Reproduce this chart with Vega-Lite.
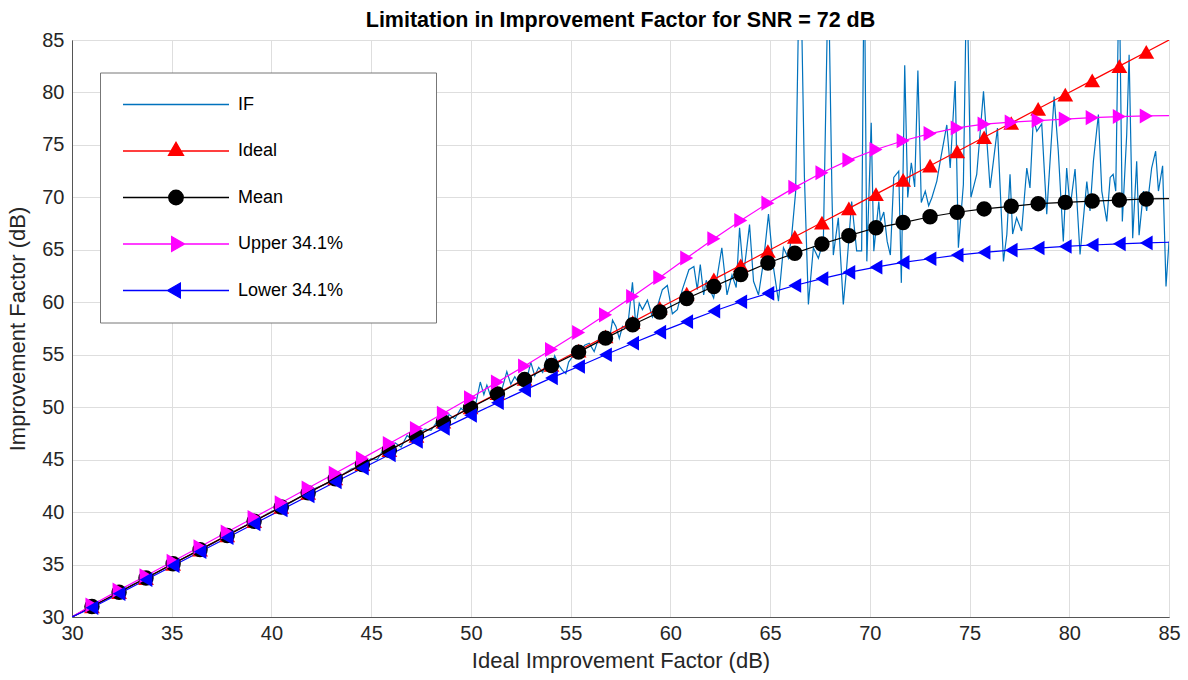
{
  "$schema": "https://vega.github.io/schema/vega-lite/v6.json",
  "width": 1097,
  "height": 577,
  "autosize": "none",
  "padding": {"left": 72, "top": 40, "right": 19, "bottom": 63},
  "background": "white",
  "title": {"text": "Limitation in Improvement Factor for SNR = 72 dB", "fontSize": 21.5, "font": "Liberation Sans", "fontWeight": "bold", "color": "#000000", "offset": -1, "anchor": "middle"},
  "config": {
    "font": "Liberation Sans",
    "view": {"stroke": "#555555", "strokeWidth": 1},
    "axis": {"grid": true, "gridColor": "#dedede", "gridWidth": 1, "domainColor": "#555555", "ticks": false, "labelFont": "Liberation Sans", "titleFont": "Liberation Sans", "labelColor": "#262626", "titleColor": "#262626", "labelFontSize": 20, "titleFontSize": 22, "titleFontWeight": "normal", "labelOverlap": false}
  },
  "data": {"values": [
    {"s":"IF","x":30,"y":30},{"s":"IF","x":31,"y":31.05},{"s":"IF","x":32,"y":31.95},{"s":"IF","x":33,"y":33.05},{"s":"IF","x":34,"y":33.95},{"s":"IF","x":35,"y":35.05},{"s":"IF","x":36,"y":36.0},{"s":"IF","x":37,"y":36.95},{"s":"IF","x":38,"y":38.05},{"s":"IF","x":39,"y":39.0},{"s":"IF","x":40,"y":40.05},{"s":"IF","x":41,"y":40.95},{"s":"IF","x":42,"y":42.1},{"s":"IF","x":43,"y":42.9},{"s":"IF","x":44,"y":44.1},{"s":"IF","x":44.5,"y":44.4},{"s":"IF","x":45,"y":45.1},{"s":"IF","x":45.3,"y":45.0},{"s":"IF","x":45.6,"y":45.9},{"s":"IF","x":45.9,"y":45.7},{"s":"IF","x":46.2,"y":46.6},{"s":"IF","x":46.5,"y":46.2},{"s":"IF","x":46.8,"y":47.3},{"s":"IF","x":47.1,"y":46.8},{"s":"IF","x":47.4,"y":47.5},{"s":"IF","x":47.7,"y":47.9},{"s":"IF","x":48,"y":47.8},{"s":"IF","x":48.3,"y":48.6},{"s":"IF","x":48.6,"y":48.3},{"s":"IF","x":48.9,"y":49.3},{"s":"IF","x":49.2,"y":48.9},{"s":"IF","x":49.5,"y":49.9},{"s":"IF","x":49.8,"y":49.4},{"s":"IF","x":50.0,"y":50.1},{"s":"IF","x":50.2,"y":49.9},{"s":"IF","x":50.47,"y":52.4},{"s":"IF","x":50.65,"y":51.2},{"s":"IF","x":50.8,"y":52.1},{"s":"IF","x":51.0,"y":51.0},{"s":"IF","x":51.2,"y":51.5},{"s":"IF","x":51.4,"y":51.1},{"s":"IF","x":51.6,"y":52.0},{"s":"IF","x":51.8,"y":53.4},{"s":"IF","x":52.0,"y":52.2},{"s":"IF","x":52.2,"y":52.9},{"s":"IF","x":52.4,"y":52.3},{"s":"IF","x":52.6,"y":53.2},{"s":"IF","x":52.8,"y":52.6},{"s":"IF","x":53.0,"y":54.3},{"s":"IF","x":53.2,"y":53.0},{"s":"IF","x":53.4,"y":53.8},{"s":"IF","x":53.6,"y":53.3},{"s":"IF","x":53.8,"y":54.6},{"s":"IF","x":54.0,"y":53.7},{"s":"IF","x":54.2,"y":54.9},{"s":"IF","x":54.4,"y":54.0},{"s":"IF","x":54.59,"y":53.5},{"s":"IF","x":54.76,"y":53.2},{"s":"IF","x":54.9,"y":54.3},{"s":"IF","x":55.09,"y":54.8},{"s":"IF","x":55.3,"y":55.7},{"s":"IF","x":55.51,"y":55.4},{"s":"IF","x":55.7,"y":55.9},{"s":"IF","x":55.93,"y":56.1},{"s":"IF","x":56.18,"y":55.3},{"s":"IF","x":56.43,"y":56.7},{"s":"IF","x":56.6,"y":56.2},{"s":"IF","x":56.77,"y":57.0},{"s":"IF","x":56.95,"y":56.5},{"s":"IF","x":57.1,"y":58.3},{"s":"IF","x":57.27,"y":57.7},{"s":"IF","x":57.44,"y":56.55},{"s":"IF","x":57.6,"y":57.7},{"s":"IF","x":57.85,"y":57.5},{"s":"IF","x":58.1,"y":61.9},{"s":"IF","x":58.27,"y":57.7},{"s":"IF","x":58.44,"y":59.9},{"s":"IF","x":58.6,"y":59.3},{"s":"IF","x":58.85,"y":60.2},{"s":"IF","x":59.1,"y":58.6},{"s":"IF","x":59.35,"y":59.6},{"s":"IF","x":59.6,"y":61.2},{"s":"IF","x":59.85,"y":61.6},{"s":"IF","x":60.1,"y":58.9},{"s":"IF","x":60.35,"y":59.3},{"s":"IF","x":60.6,"y":61.2},{"s":"IF","x":60.93,"y":63.1},{"s":"IF","x":61.18,"y":63.4},{"s":"IF","x":61.35,"y":61.2},{"s":"IF","x":61.5,"y":63.6},{"s":"IF","x":61.67,"y":60.7},{"s":"IF","x":61.8,"y":62.1},{"s":"IF","x":61.92,"y":61.4},{"s":"IF","x":62.05,"y":60.9},{"s":"IF","x":62.17,"y":60.4},{"s":"IF","x":62.42,"y":63.3},{"s":"IF","x":62.58,"y":65.2},{"s":"IF","x":62.84,"y":60.7},{"s":"IF","x":63.09,"y":62.6},{"s":"IF","x":63.3,"y":61.4},{"s":"IF","x":63.47,"y":67.1},{"s":"IF","x":63.67,"y":62.6},{"s":"IF","x":63.97,"y":67.4},{"s":"IF","x":64.17,"y":62.0},{"s":"IF","x":64.42,"y":60.7},{"s":"IF","x":64.67,"y":63.9},{"s":"IF","x":64.92,"y":68.4},{"s":"IF","x":65.17,"y":63.3},{"s":"IF","x":65.42,"y":60.1},{"s":"IF","x":65.67,"y":65.2},{"s":"IF","x":65.92,"y":64.2},{"s":"IF","x":66.09,"y":66.5},{"s":"IF","x":66.28,"y":70.5},{"s":"IF","x":66.5,"y":96},{"s":"IF","x":66.72,"y":72},{"s":"IF","x":66.92,"y":59.8},{"s":"IF","x":67.17,"y":65.2},{"s":"IF","x":67.42,"y":64.2},{"s":"IF","x":67.67,"y":65.8},{"s":"IF","x":67.92,"y":92},{"s":"IF","x":68.1,"y":70.5},{"s":"IF","x":68.17,"y":64.5},{"s":"IF","x":68.42,"y":68.05},{"s":"IF","x":68.67,"y":59.8},{"s":"IF","x":68.84,"y":63.3},{"s":"IF","x":69.09,"y":69.6},{"s":"IF","x":69.34,"y":64.9},{"s":"IF","x":69.59,"y":64.9},{"s":"IF","x":69.72,"y":94},{"s":"IF","x":69.85,"y":63.9},{"s":"IF","x":70.07,"y":77.1},{"s":"IF","x":70.2,"y":64.87},{"s":"IF","x":70.45,"y":69.6},{"s":"IF","x":70.53,"y":67.7},{"s":"IF","x":70.7,"y":68.6},{"s":"IF","x":70.87,"y":65.8},{"s":"IF","x":71.03,"y":64.5},{"s":"IF","x":71.2,"y":71.9},{"s":"IF","x":71.45,"y":72.5},{"s":"IF","x":71.58,"y":61.85},{"s":"IF","x":71.75,"y":82.6},{"s":"IF","x":71.9,"y":70.0},{"s":"IF","x":72.08,"y":73.3},{"s":"IF","x":72.25,"y":71.0},{"s":"IF","x":72.41,"y":82.1},{"s":"IF","x":72.58,"y":69.5},{"s":"IF","x":72.78,"y":70.6},{"s":"IF","x":72.95,"y":69.2},{"s":"IF","x":73.11,"y":69.97},{"s":"IF","x":73.36,"y":71.55},{"s":"IF","x":73.53,"y":73.45},{"s":"IF","x":73.86,"y":76.9},{"s":"IF","x":74.03,"y":72.8},{"s":"IF","x":74.28,"y":81.1},{"s":"IF","x":74.44,"y":65.2},{"s":"IF","x":74.69,"y":71.2},{"s":"IF","x":74.86,"y":92},{"s":"IF","x":75.07,"y":70.0},{"s":"IF","x":75.36,"y":72.2},{"s":"IF","x":75.7,"y":80.1},{"s":"IF","x":76.03,"y":70.9},{"s":"IF","x":76.2,"y":73.5},{"s":"IF","x":76.4,"y":76.6},{"s":"IF","x":76.7,"y":63.9},{"s":"IF","x":76.87,"y":66.46},{"s":"IF","x":77.03,"y":72.2},{"s":"IF","x":77.16,"y":66.5},{"s":"IF","x":77.36,"y":68.05},{"s":"IF","x":77.61,"y":66.8},{"s":"IF","x":77.87,"y":72.8},{"s":"IF","x":78.03,"y":70.9},{"s":"IF","x":78.2,"y":77.6},{"s":"IF","x":78.37,"y":76.3},{"s":"IF","x":78.62,"y":77.0},{"s":"IF","x":78.87,"y":68.4},{"s":"IF","x":79.12,"y":76.0},{"s":"IF","x":79.24,"y":79.6},{"s":"IF","x":79.45,"y":74.4},{"s":"IF","x":79.7,"y":65.8},{"s":"IF","x":79.87,"y":72.8},{"s":"IF","x":80.04,"y":69.0},{"s":"IF","x":80.29,"y":72.7},{"s":"IF","x":80.54,"y":64.55},{"s":"IF","x":80.88,"y":71.5},{"s":"IF","x":81.04,"y":68.7},{"s":"IF","x":81.21,"y":73.45},{"s":"IF","x":81.46,"y":77.9},{"s":"IF","x":81.63,"y":70.6},{"s":"IF","x":81.88,"y":67.7},{"s":"IF","x":82.05,"y":71.9},{"s":"IF","x":82.2,"y":72.2},{"s":"IF","x":82.33,"y":70.6},{"s":"IF","x":82.5,"y":92},{"s":"IF","x":82.66,"y":67.7},{"s":"IF","x":82.88,"y":76.0},{"s":"IF","x":83.0,"y":83.6},{"s":"IF","x":83.18,"y":66.1},{"s":"IF","x":83.38,"y":73.45},{"s":"IF","x":83.5,"y":66.4},{"s":"IF","x":83.72,"y":70.6},{"s":"IF","x":83.88,"y":68.7},{"s":"IF","x":84.13,"y":72.8},{"s":"IF","x":84.33,"y":74.4},{"s":"IF","x":84.47,"y":70.6},{"s":"IF","x":84.68,"y":73.0},{"s":"IF","x":84.85,"y":61.5},{"s":"IF","x":85.0,"y":65.8},

    {"s":"Ideal","x":30,"y":30,"m":0},{"s":"Ideal","x":31.00,"y":31.00,"m":1},{"s":"Ideal","x":32.36,"y":32.36,"m":1},{"s":"Ideal","x":33.71,"y":33.71,"m":1},{"s":"Ideal","x":35.07,"y":35.07,"m":1},{"s":"Ideal","x":36.42,"y":36.42,"m":1},{"s":"Ideal","x":37.78,"y":37.78,"m":1},{"s":"Ideal","x":39.13,"y":39.13,"m":1},{"s":"Ideal","x":40.49,"y":40.49,"m":1},{"s":"Ideal","x":41.84,"y":41.84,"m":1},{"s":"Ideal","x":43.20,"y":43.20,"m":1},{"s":"Ideal","x":44.56,"y":44.56,"m":1},{"s":"Ideal","x":45.91,"y":45.91,"m":1},{"s":"Ideal","x":47.27,"y":47.27,"m":1},{"s":"Ideal","x":48.62,"y":48.62,"m":1},{"s":"Ideal","x":49.98,"y":49.98,"m":1},{"s":"Ideal","x":51.33,"y":51.33,"m":1},{"s":"Ideal","x":52.69,"y":52.69,"m":1},{"s":"Ideal","x":54.04,"y":54.04,"m":1},{"s":"Ideal","x":55.40,"y":55.40,"m":1},{"s":"Ideal","x":56.75,"y":56.75,"m":1},{"s":"Ideal","x":58.11,"y":58.11,"m":1},{"s":"Ideal","x":59.47,"y":59.47,"m":1},{"s":"Ideal","x":60.82,"y":60.82,"m":1},{"s":"Ideal","x":62.18,"y":62.18,"m":1},{"s":"Ideal","x":63.53,"y":63.53,"m":1},{"s":"Ideal","x":64.89,"y":64.89,"m":1},{"s":"Ideal","x":66.24,"y":66.24,"m":1},{"s":"Ideal","x":67.60,"y":67.60,"m":1},{"s":"Ideal","x":68.95,"y":68.95,"m":1},{"s":"Ideal","x":70.31,"y":70.31,"m":1},{"s":"Ideal","x":71.67,"y":71.67,"m":1},{"s":"Ideal","x":73.02,"y":73.02,"m":1},{"s":"Ideal","x":74.38,"y":74.38,"m":1},{"s":"Ideal","x":75.73,"y":75.73,"m":1},{"s":"Ideal","x":77.09,"y":77.09,"m":1},{"s":"Ideal","x":78.44,"y":78.44,"m":1},{"s":"Ideal","x":79.80,"y":79.80,"m":1},{"s":"Ideal","x":81.15,"y":81.15,"m":1},{"s":"Ideal","x":82.51,"y":82.51,"m":1},{"s":"Ideal","x":83.86,"y":83.86,"m":1},{"s":"Ideal","x":85,"y":85,"m":0},

    {"s":"Mean","x":30,"y":30,"m":0},{"s":"Mean","x":31.00,"y":31.00,"m":1},{"s":"Mean","x":32.36,"y":32.36,"m":1},{"s":"Mean","x":33.71,"y":33.71,"m":1},{"s":"Mean","x":35.07,"y":35.07,"m":1},{"s":"Mean","x":36.42,"y":36.42,"m":1},{"s":"Mean","x":37.78,"y":37.77,"m":1},{"s":"Mean","x":39.13,"y":39.12,"m":1},{"s":"Mean","x":40.49,"y":40.48,"m":1},{"s":"Mean","x":41.84,"y":41.83,"m":1},{"s":"Mean","x":43.20,"y":43.18,"m":1},{"s":"Mean","x":44.56,"y":44.54,"m":1},{"s":"Mean","x":45.91,"y":45.89,"m":1},{"s":"Mean","x":47.27,"y":47.25,"m":1},{"s":"Mean","x":48.62,"y":48.59,"m":1},{"s":"Mean","x":49.98,"y":49.94,"m":1},{"s":"Mean","x":51.33,"y":51.25,"m":1},{"s":"Mean","x":52.69,"y":52.63,"m":1},{"s":"Mean","x":54.04,"y":53.97,"m":1},{"s":"Mean","x":55.40,"y":55.25,"m":1},{"s":"Mean","x":56.75,"y":56.58,"m":1},{"s":"Mean","x":58.11,"y":57.85,"m":1},{"s":"Mean","x":59.47,"y":59.08,"m":1},{"s":"Mean","x":60.82,"y":60.36,"m":1},{"s":"Mean","x":62.18,"y":61.50,"m":1},{"s":"Mean","x":63.53,"y":62.64,"m":1},{"s":"Mean","x":64.89,"y":63.74,"m":1},{"s":"Mean","x":66.24,"y":64.68,"m":1},{"s":"Mean","x":67.60,"y":65.55,"m":1},{"s":"Mean","x":68.95,"y":66.35,"m":1},{"s":"Mean","x":70.31,"y":67.10,"m":1},{"s":"Mean","x":71.67,"y":67.60,"m":1},{"s":"Mean","x":73.02,"y":68.15,"m":1},{"s":"Mean","x":74.38,"y":68.58,"m":1},{"s":"Mean","x":75.73,"y":68.90,"m":1},{"s":"Mean","x":77.09,"y":69.15,"m":1},{"s":"Mean","x":78.44,"y":69.40,"m":1},{"s":"Mean","x":79.80,"y":69.52,"m":1},{"s":"Mean","x":81.15,"y":69.65,"m":1},{"s":"Mean","x":82.51,"y":69.74,"m":1},{"s":"Mean","x":83.86,"y":69.85,"m":1},{"s":"Mean","x":85,"y":69.88,"m":0},

    {"s":"Upper 34.1%","x":30,"y":30,"m":0},{"s":"Upper 34.1%","x":31.00,"y":31.15,"m":1},{"s":"Upper 34.1%","x":32.36,"y":32.56,"m":1},{"s":"Upper 34.1%","x":33.71,"y":33.93,"m":1},{"s":"Upper 34.1%","x":35.07,"y":35.32,"m":1},{"s":"Upper 34.1%","x":36.42,"y":36.70,"m":1},{"s":"Upper 34.1%","x":37.78,"y":38.10,"m":1},{"s":"Upper 34.1%","x":39.13,"y":39.49,"m":1},{"s":"Upper 34.1%","x":40.49,"y":40.89,"m":1},{"s":"Upper 34.1%","x":41.84,"y":42.29,"m":1},{"s":"Upper 34.1%","x":43.20,"y":43.70,"m":1},{"s":"Upper 34.1%","x":44.56,"y":45.12,"m":1},{"s":"Upper 34.1%","x":45.91,"y":46.53,"m":1},{"s":"Upper 34.1%","x":47.27,"y":47.97,"m":1},{"s":"Upper 34.1%","x":48.62,"y":49.42,"m":1},{"s":"Upper 34.1%","x":49.98,"y":50.90,"m":1},{"s":"Upper 34.1%","x":51.33,"y":52.39,"m":1},{"s":"Upper 34.1%","x":52.69,"y":53.93,"m":1},{"s":"Upper 34.1%","x":54.04,"y":55.49,"m":1},{"s":"Upper 34.1%","x":55.40,"y":57.12,"m":1},{"s":"Upper 34.1%","x":56.75,"y":58.80,"m":1},{"s":"Upper 34.1%","x":58.11,"y":60.55,"m":1},{"s":"Upper 34.1%","x":59.47,"y":62.37,"m":1},{"s":"Upper 34.1%","x":60.82,"y":64.22,"m":1},{"s":"Upper 34.1%","x":62.18,"y":66.06,"m":1},{"s":"Upper 34.1%","x":63.53,"y":67.80,"m":1},{"s":"Upper 34.1%","x":64.89,"y":69.45,"m":1},{"s":"Upper 34.1%","x":66.24,"y":70.95,"m":1},{"s":"Upper 34.1%","x":67.60,"y":72.35,"m":1},{"s":"Upper 34.1%","x":68.95,"y":73.55,"m":1},{"s":"Upper 34.1%","x":70.31,"y":74.56,"m":1},{"s":"Upper 34.1%","x":71.67,"y":75.40,"m":1},{"s":"Upper 34.1%","x":73.02,"y":76.08,"m":1},{"s":"Upper 34.1%","x":74.38,"y":76.62,"m":1},{"s":"Upper 34.1%","x":75.73,"y":76.98,"m":1},{"s":"Upper 34.1%","x":77.09,"y":77.17,"m":1},{"s":"Upper 34.1%","x":78.44,"y":77.32,"m":1},{"s":"Upper 34.1%","x":79.80,"y":77.46,"m":1},{"s":"Upper 34.1%","x":81.15,"y":77.60,"m":1},{"s":"Upper 34.1%","x":82.51,"y":77.70,"m":1},{"s":"Upper 34.1%","x":83.86,"y":77.76,"m":1},{"s":"Upper 34.1%","x":85,"y":77.80,"m":0},

    {"s":"Lower 34.1%","x":30,"y":30,"m":0},{"s":"Lower 34.1%","x":31.00,"y":30.88,"m":1},{"s":"Lower 34.1%","x":32.36,"y":32.22,"m":1},{"s":"Lower 34.1%","x":33.71,"y":33.55,"m":1},{"s":"Lower 34.1%","x":35.07,"y":34.89,"m":1},{"s":"Lower 34.1%","x":36.42,"y":36.22,"m":1},{"s":"Lower 34.1%","x":37.78,"y":37.56,"m":1},{"s":"Lower 34.1%","x":39.13,"y":38.88,"m":1},{"s":"Lower 34.1%","x":40.49,"y":40.21,"m":1},{"s":"Lower 34.1%","x":41.84,"y":41.54,"m":1},{"s":"Lower 34.1%","x":43.20,"y":42.87,"m":1},{"s":"Lower 34.1%","x":44.56,"y":44.18,"m":1},{"s":"Lower 34.1%","x":45.91,"y":45.46,"m":1},{"s":"Lower 34.1%","x":47.27,"y":46.73,"m":1},{"s":"Lower 34.1%","x":48.62,"y":47.98,"m":1},{"s":"Lower 34.1%","x":49.98,"y":49.22,"m":1},{"s":"Lower 34.1%","x":51.33,"y":50.43,"m":1},{"s":"Lower 34.1%","x":52.69,"y":51.63,"m":1},{"s":"Lower 34.1%","x":54.04,"y":52.79,"m":1},{"s":"Lower 34.1%","x":55.40,"y":53.88,"m":1},{"s":"Lower 34.1%","x":56.75,"y":55.00,"m":1},{"s":"Lower 34.1%","x":58.11,"y":56.10,"m":1},{"s":"Lower 34.1%","x":59.47,"y":57.15,"m":1},{"s":"Lower 34.1%","x":60.82,"y":58.15,"m":1},{"s":"Lower 34.1%","x":62.18,"y":59.15,"m":1},{"s":"Lower 34.1%","x":63.53,"y":60.05,"m":1},{"s":"Lower 34.1%","x":64.89,"y":60.85,"m":1},{"s":"Lower 34.1%","x":66.24,"y":61.60,"m":1},{"s":"Lower 34.1%","x":67.60,"y":62.25,"m":1},{"s":"Lower 34.1%","x":68.95,"y":62.85,"m":1},{"s":"Lower 34.1%","x":70.31,"y":63.35,"m":1},{"s":"Lower 34.1%","x":71.67,"y":63.80,"m":1},{"s":"Lower 34.1%","x":73.02,"y":64.15,"m":1},{"s":"Lower 34.1%","x":74.38,"y":64.50,"m":1},{"s":"Lower 34.1%","x":75.73,"y":64.75,"m":1},{"s":"Lower 34.1%","x":77.09,"y":64.97,"m":1},{"s":"Lower 34.1%","x":78.44,"y":65.17,"m":1},{"s":"Lower 34.1%","x":79.80,"y":65.32,"m":1},{"s":"Lower 34.1%","x":81.15,"y":65.46,"m":1},{"s":"Lower 34.1%","x":82.51,"y":65.57,"m":1},{"s":"Lower 34.1%","x":83.86,"y":65.66,"m":1},{"s":"Lower 34.1%","x":85,"y":65.72,"m":0}
  ]},
  "encoding": {
    "x": {"field": "x", "type": "quantitative", "scale": {"domain": [30, 85], "nice": false, "zero": false},
          "axis": {"values": [30,35,40,45,50,55,60,65,70,75,80,85], "title": "Ideal Improvement Factor (dB)", "labelPadding": 6, "titlePadding": 7, "labelFlush": false}},
    "y": {"field": "y", "type": "quantitative", "scale": {"domain": [30, 85], "nice": false, "zero": false},
          "axis": {"values": [30,35,40,45,50,55,60,65,70,75,80,85], "title": "Improvement Factor (dB)", "labelPadding": 8, "titlePadding": 12, "labelFlush": false}}
  },
  "layer": [
    {
      "mark": {"type": "line", "clip": true, "strokeWidth": 1.2},
      "encoding": {
        "color": {"field": "s", "type": "nominal",
          "scale": {"domain": ["IF", "Ideal", "Mean", "Upper 34.1%", "Lower 34.1%"], "range": ["#0072bd", "#ff0000", "#000000", "#ff00ff", "#0000ff"]},
          "legend": {
            "orient": "none", "legendX": 28, "legendY": 32.5, "title": null,
            "symbolSize": 11236, "clipHeight": 20, "rowPadding": 26.5, "padding": 22,
            "labelOffset": 8, "labelFontSize": 18, "labelFont": "Liberation Sans", "labelColor": "#000000",
            "labelLimit": 400, "strokeColor": "#777777", "fillColor": "#ffffff", "symbolStrokeWidth": 1.3,
            "labelExpr": "datum.label + '\u00a0\u00a0\u00a0\u00a0\u00a0\u00a0\u00a0\u00a0\u00a0\u00a0\u00a0\u00a0\u00a0\u00a0\u200b'",
            "encode": {"symbols": {"update": {
              "shape": {"signal": "datum.value === 'IF' ? 'M-1,0H1' : datum.value === 'Ideal' ? 'M-1,0H1M0,-0.163L0.1415,0.082L-0.1415,0.082Z' : datum.value === 'Mean' ? 'M-1,0H1M0.137,0C0.137,0.0756,0.0756,0.137,0,0.137C-0.0756,0.137,-0.137,0.0756,-0.137,0C-0.137,-0.0756,-0.0756,-0.137,0,-0.137C0.0756,-0.137,0.137,-0.0756,0.137,0Z' : datum.value === 'Upper 34.1%' ? 'M-1,0H1M0.163,0L-0.082,0.1415L-0.082,-0.1415Z' : 'M-1,0H1M-0.163,0L0.082,-0.1415L0.082,0.1415Z'"},
              "fill": {"signal": "datum.value === 'IF' ? 'transparent' : datum.value === 'Ideal' ? '#ff0000' : datum.value === 'Mean' ? '#000000' : datum.value === 'Upper 34.1%' ? '#ff00ff' : '#0000ff'"},
              "stroke": {"signal": "datum.value === 'IF' ? '#0072bd' : datum.value === 'Ideal' ? '#ff0000' : datum.value === 'Mean' ? '#000000' : datum.value === 'Upper 34.1%' ? '#ff00ff' : '#0000ff'"},
              "size": {"value": 11236},
              "strokeWidth": {"value": 1.3},
              "opacity": {"value": 1}
            }}}
          }
        }
      }
    },
    {
      "transform": [{"filter": "datum.m === 1"}],
      "mark": {"type": "point", "filled": true, "opacity": 1, "clip": true},
      "encoding": {
        "color": {"field": "s", "type": "nominal"},
        "shape": {"field": "s", "type": "nominal", "legend": null,
          "scale": {"domain": ["Ideal", "Mean", "Upper 34.1%", "Lower 34.1%"], "range": ["triangle-up", "circle", "triangle-right", "triangle-left"]}},
        "size": {"field": "s", "type": "nominal", "legend": null,
          "scale": {"domain": ["Ideal", "Mean", "Upper 34.1%", "Lower 34.1%"], "range": [250, 215, 250, 250]}}
      }
    }
  ]
}
